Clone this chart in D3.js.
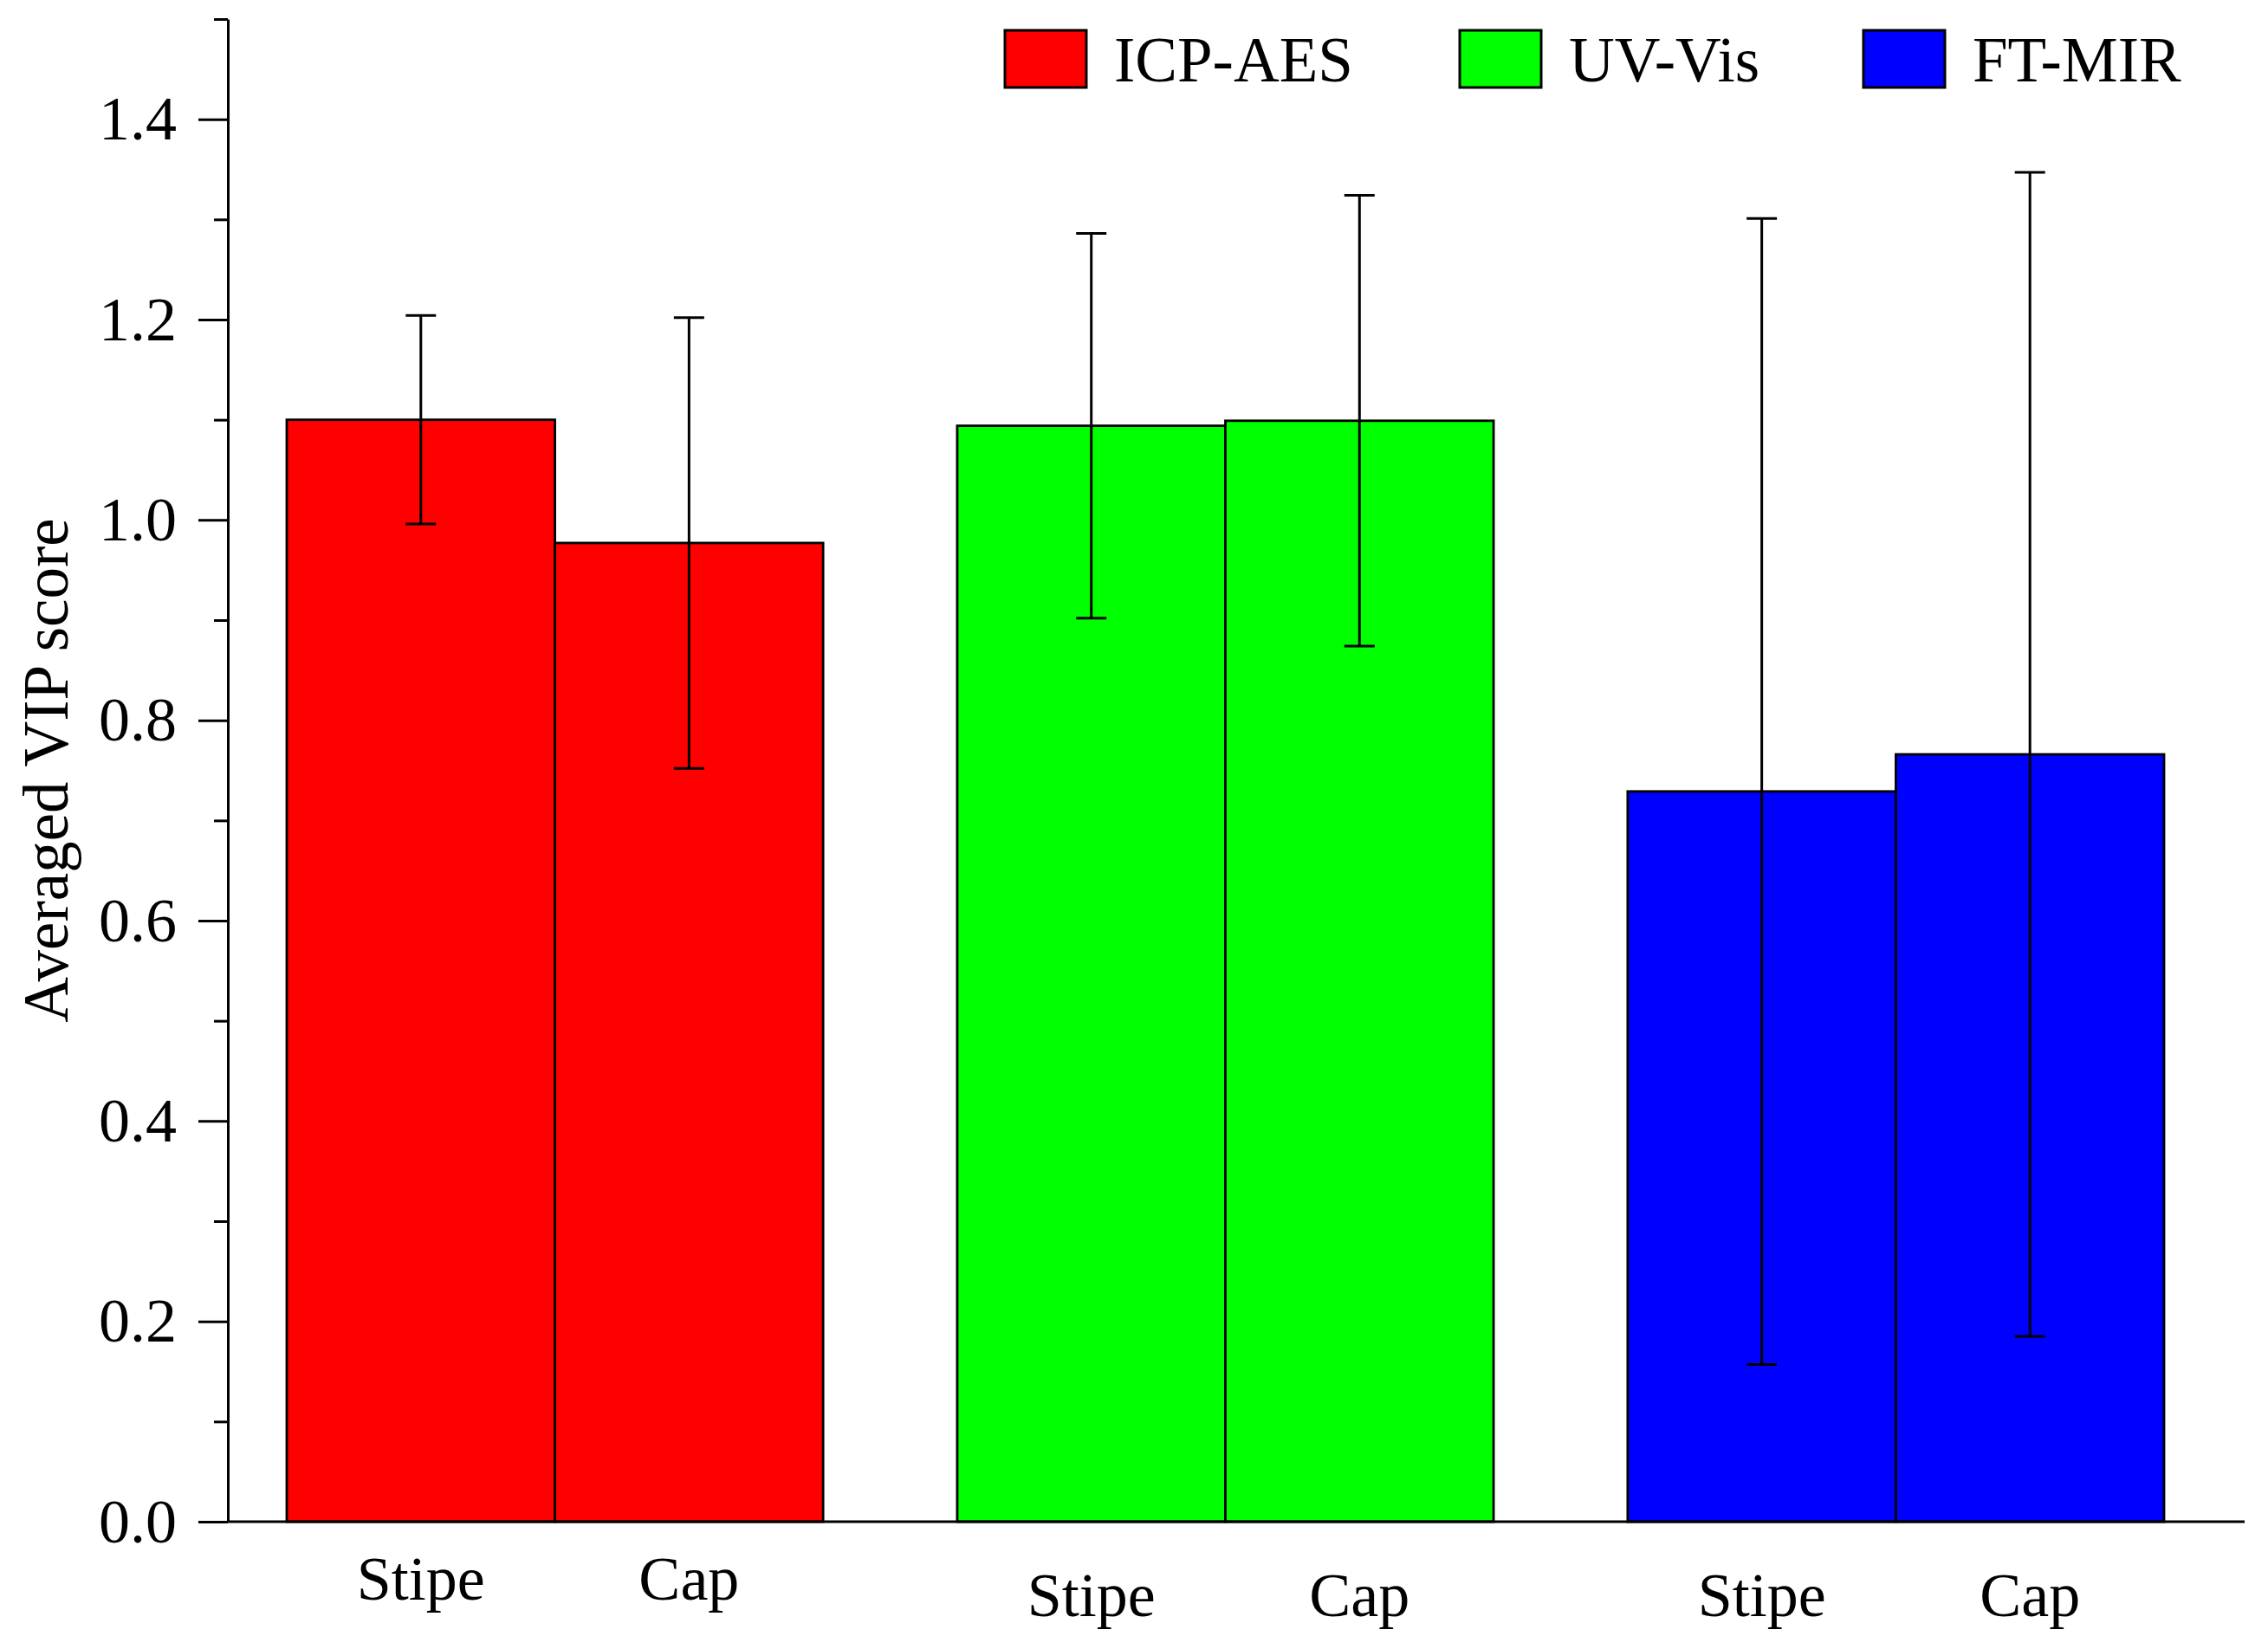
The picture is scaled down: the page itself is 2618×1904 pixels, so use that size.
<!DOCTYPE html>
<html>
<head>
<meta charset="utf-8">
<script src="https://cdn.jsdelivr.net/npm/d3@7"></script>
<style>
    html, body { margin: 0; padding: 0; background: #fff; }
</style>
</head>
<body>
<svg id="vipChart" width="2618" height="1904"></svg>
<script>
// Chart data
const methods = ["ICP-AES", "UV-Vis", "FT-MIR"];
const tissues = ["Stipe", "Cap"];
const stipeVip = [1.100, 1.094, 0.729];
const capVip = [0.977, 1.099, 0.766];
const stipeErr = [0.104, 0.192, 0.572];
const capErr = [0.225, 0.225, 0.581];
const yTicks = [0.0, 0.2, 0.4, 0.6, 0.8, 1.0, 1.2, 1.4];
const yMinorTicks = [0.1, 0.3, 0.5, 0.7, 0.9, 1.1, 1.3, 1.5];
const yTitle = "Averaged VIP score";

const FONT = "'Liberation Serif', 'Times New Roman', 'DejaVu Serif', serif";

function renderChart() {
    const svg = d3.select("#vipChart");
    const margin = { top: 22, right: 27, bottom: 147, left: 263 };
    const width = +svg.attr("width") - margin.left - margin.right;
    const height = +svg.attr("height") - margin.top - margin.bottom;

    const g = svg.append("g")
        .attr("transform", `translate(${margin.left},${margin.top})`);

    // Flatten into one row per bar
    const rows = [];
    methods.forEach((m, i) => {
        rows.push({ method: m, tissue: "Stipe", value: stipeVip[i], err: stipeErr[i] });
        rows.push({ method: m, tissue: "Cap", value: capVip[i], err: capErr[i] });
    });

    const color = d3.scaleOrdinal()
        .domain(methods)
        .range(["#ff0000", "#00ff00", "#0000ff"]);

    // Scales
    const x = d3.scaleBand()
        .domain(methods)
        .range([68, 2235])
        .paddingInner(0.2)
        .paddingOuter(0);

    const xInner = d3.scaleBand()
        .domain(tissues)
        .range([0, x.bandwidth()])
        .padding(0);

    const y = d3.scaleLinear()
        .domain([0, 1.5])
        .range([height, 0]);

    // Bars
    g.selectAll("rect.bar")
        .data(rows)
        .enter().append("rect")
        .attr("class", "bar")
        .attr("x", d => x(d.method) + xInner(d.tissue))
        .attr("y", d => y(d.value))
        .attr("width", xInner.bandwidth())
        .attr("height", d => y(0) - y(d.value))
        .attr("fill", d => color(d.method))
        .attr("stroke", "#000")
        .attr("stroke-width", 2.8);

    // Error bars
    const capHalf = 17.5;
    const errG = g.selectAll("g.err")
        .data(rows)
        .enter().append("g")
        .attr("class", "err")
        .attr("transform", d => `translate(${x(d.method) + xInner(d.tissue) + xInner.bandwidth() / 2},0)`);

    errG.append("line")
        .attr("y1", d => y(d.value - d.err))
        .attr("y2", d => y(d.value + d.err))
        .attr("stroke", "#000")
        .attr("stroke-width", 3);

    errG.selectAll("line.cap")
        .data(d => [d.value - d.err, d.value + d.err])
        .enter().append("line")
        .attr("class", "cap")
        .attr("x1", -capHalf)
        .attr("x2", capHalf)
        .attr("y1", v => y(v))
        .attr("y2", v => y(v))
        .attr("stroke", "#000")
        .attr("stroke-width", 3);

    // Y axis: major ticks with labels
    const yAxis = g.append("g")
        .call(d3.axisLeft(y).tickValues(yTicks).tickFormat(d3.format(".1f"))
            .tickSize(34).tickPadding(25).tickSizeOuter(0));
    yAxis.select(".domain").attr("stroke-width", 3);
    yAxis.selectAll(".tick line").attr("stroke-width", 3);
    yAxis.selectAll(".tick text")
        .style("font-family", FONT)
        .style("font-size", "72px")
        .attr("fill", "#000");

    // Y axis: minor ticks
    const yMinor = g.append("g")
        .call(d3.axisLeft(y).tickValues(yMinorTicks).tickFormat("").tickSize(16).tickSizeOuter(0));
    yMinor.select(".domain").remove();
    yMinor.selectAll(".tick line").attr("stroke-width", 3);

    // X axis line
    g.append("line")
        .attr("x1", 0)
        .attr("x2", width)
        .attr("y1", y(0))
        .attr("y2", y(0))
        .attr("stroke", "#000")
        .attr("stroke-width", 3.2);

    // X category labels (first group sits a little higher in the original)
    const labelShift = { "ICP-AES": 0, "UV-Vis": 19, "FT-MIR": 19 };
    g.selectAll("text.xlab")
        .data(rows)
        .enter().append("text")
        .attr("class", "xlab")
        .attr("x", d => x(d.method) + xInner(d.tissue) + xInner.bandwidth() / 2)
        .attr("y", d => y(0) + 90 + labelShift[d.method])
        .attr("text-anchor", "middle")
        .style("font-family", FONT)
        .style("font-size", "72px")
        .text(d => d.tissue);

    // Y axis title
    svg.append("text")
        .attr("transform", `translate(78,${margin.top + height / 2}) rotate(-90)`)
        .attr("text-anchor", "middle")
        .style("font-family", FONT)
        .style("font-size", "73px")
        .text(yTitle);

    // Legend (item offsets follow the original spacing)
    const legendX = [0, 525, 991];
    const legend = svg.append("g").attr("transform", "translate(1160,35)");
    const item = legend.selectAll("g.item")
        .data(methods)
        .enter().append("g")
        .attr("class", "item")
        .attr("transform", (d, i) => `translate(${legendX[i]},0)`);

    item.append("rect")
        .attr("width", 94)
        .attr("height", 66)
        .attr("fill", d => color(d))
        .attr("stroke", "#000")
        .attr("stroke-width", 3);

    item.append("text")
        .attr("x", 126)
        .attr("y", 59)
        .style("font-family", FONT)
        .style("font-size", "73px")
        .text(d => d);
}

renderChart();
</script>
</body>
</html>
